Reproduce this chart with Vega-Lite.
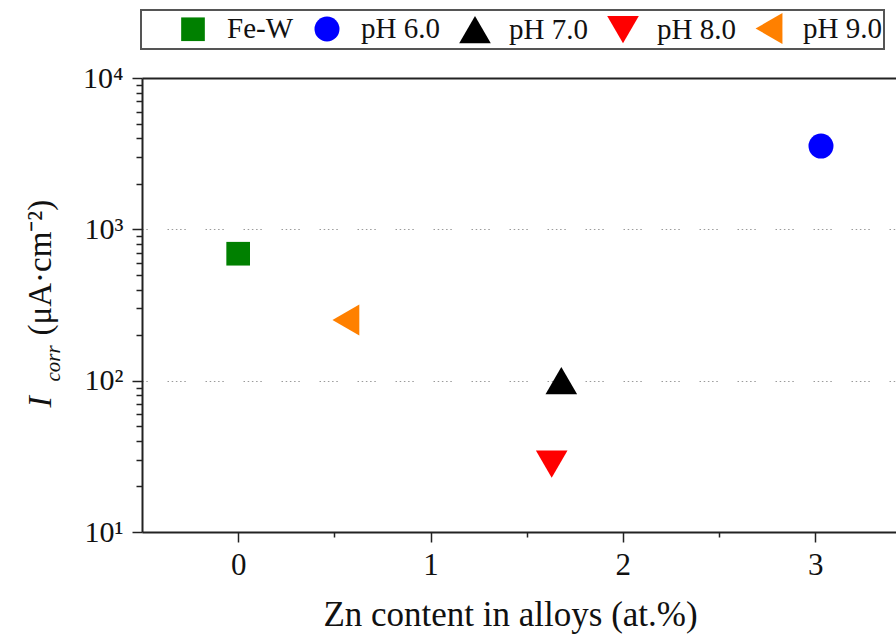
{
  "$schema": "https://vega.github.io/schema/vega-lite/v6.json",
  "width": 754,
  "height": 454,
  "autosize": {"type": "none"},
  "padding": {"left": 142, "top": 78, "right": 0, "bottom": 108},
  "background": "white",
  "data": {
    "values": [
      {"sample": "Fe-W", "zn": 0.0, "icorr": 690},
      {"sample": "pH 6.0", "zn": 3.03, "icorr": 3550},
      {"sample": "pH 7.0", "zn": 1.68, "icorr": 100},
      {"sample": "pH 8.0", "zn": 1.63, "icorr": 28.1},
      {"sample": "pH 9.0", "zn": 0.56, "icorr": 252}
    ]
  },
  "layer": [
    {
      "mark": {"type": "point", "filled": true, "opacity": 1},
      "encoding": {
        "x": {
          "field": "zn",
          "type": "quantitative",
          "scale": {"domain": [-0.5, 3.42], "nice": false, "zero": false},
          "axis": {
            "orient": "bottom",
            "values": [0, 0.5, 1, 1.5, 2, 2.5, 3],
            "labelExpr": "datum.value % 1 == 0 ? format(datum.value, 'd') : ''",
            "tickSize": {"condition": {"test": "datum.value % 1 == 0", "value": 10}, "value": 5},
            "grid": false,
            "title": "Zn content in alloys (at.%)",
            "titleFontSize": 35,
            "titleFontWeight": "normal",
            "titleBaseline": "alphabetic",
            "titleAlign": "center",
            "titleX": 368,
            "titleY": 93,
            "labelFontSize": 31,
            "labelPadding": 8,
            "labelFlush": false
          }
        },
        "y": {
          "field": "icorr",
          "type": "quantitative",
          "scale": {"type": "log", "domain": [10, 10000], "nice": false},
          "axis": {
            "orient": "left",
            "values": [10, 20, 30, 40, 50, 60, 70, 80, 90, 100, 200, 300, 400, 500, 600, 700, 800, 900, 1000, 2000, 3000, 4000, 5000, 6000, 7000, 8000, 9000, 10000],
            "labelExpr": "datum.value == 10 ? '10¹' : datum.value == 100 ? '10²' : datum.value == 1000 ? '10³' : datum.value == 10000 ? '10⁴' : ''",
            "tickSize": {"condition": {"test": "datum.value == 10 || datum.value == 100 || datum.value == 1000 || datum.value == 10000", "value": 10}, "value": 6},
            "grid": true,
            "gridOpacity": {"condition": {"test": "datum.value == 100 || datum.value == 1000", "value": 1}, "value": 0},
            "gridColor": "#9a9a9a",
            "gridWidth": 1,
            "gridDash": [1.5, 2.7, 1.5, 2.7, 1.5, 2.7, 1.5, 2.7, 1.5, 19.7],
            "gridDashOffset": 13,
            "labelFontSize": 30,
            "labelPadding": 9,
            "labelFlush": false,
            "title": "(μA·cm⁻²)",
            "titleFontSize": 33,
            "titleFontWeight": "normal",
            "titleAngle": -90,
            "titleAlign": "left",
            "titleBaseline": "alphabetic",
            "titleX": -92,
            "titleY": 257
          }
        },
        "color": {
          "field": "sample",
          "type": "nominal",
          "scale": {
            "domain": ["Fe-W", "pH 6.0", "pH 7.0", "pH 8.0", "pH 9.0"],
            "range": ["#008000", "#0000ff", "#000000", "#ff0000", "#ff8000"]
          },
          "legend": {
            "orient": "none",
            "legendX": -1,
            "legendY": -68,
            "direction": "horizontal",
            "columns": 5,
            "title": " ",
            "titleOrient": "left",
            "titleFontSize": 2,
            "titlePadding": 33,
            "padding": 2,
            "strokeColor": "#555555",
            "labelFontSize": 29,
            "labelOffset": 17,
            "columnPadding": 16,
            "symbolOpacity": 1
          }
        },
        "shape": {
          "field": "sample",
          "type": "nominal",
          "scale": {
            "domain": ["Fe-W", "pH 6.0", "pH 7.0", "pH 8.0", "pH 9.0"],
            "range": ["square", "circle", "triangle-up", "triangle-down", "triangle-left"]
          }
        },
        "size": {
          "field": "sample",
          "type": "nominal",
          "scale": {
            "type": "ordinal",
            "domain": ["Fe-W", "pH 6.0", "pH 7.0", "pH 8.0", "pH 9.0"],
            "range": [560, 625, 1000, 1000, 960]
          }
        }
      }
    },
    {
      "mark": {"type": "point", "opacity": 0},
      "encoding": {
        "x": {
          "field": "zn",
          "type": "quantitative",
          "axis": {"orient": "top", "labels": false, "ticks": false, "grid": false, "title": null, "domain": true}
        },
        "y": {
          "field": "icorr",
          "type": "quantitative",
          "axis": {
            "orient": "left", "labels": false, "ticks": false, "grid": false, "domain": false,
            "title": "I",
            "titleFontSize": 34,
            "titleFontStyle": "italic",
            "titleFontWeight": "normal",
            "titleAngle": -90,
            "titleAlign": "left",
            "titleBaseline": "alphabetic",
            "titleX": -92,
            "titleY": 329
          }
        }
      }
    },
    {
      "mark": {"type": "point", "opacity": 0},
      "encoding": {
        "x": {"field": "zn", "type": "quantitative", "axis": null},
        "y": {
          "field": "icorr",
          "type": "quantitative",
          "axis": {
            "orient": "left", "labels": false, "ticks": false, "grid": false, "domain": false,
            "title": "corr",
            "titleFontSize": 21,
            "titleFontStyle": "italic",
            "titleFontWeight": "normal",
            "titleAngle": -90,
            "titleAlign": "left",
            "titleBaseline": "alphabetic",
            "titleX": -83,
            "titleY": 303
          }
        }
      }
    }
  ],
  "resolve": {"axis": {"x": "independent", "y": "independent"}},
  "config": {
    "view": {"stroke": null},
    "font": "Liberation Serif",
    "axis": {
      "domainColor": "#222222",
      "domainWidth": 2,
      "tickColor": "#222222",
      "tickWidth": 1.5,
      "labelColor": "#111111",
      "titleColor": "#111111",
      "labelFont": "Liberation Serif",
      "titleFont": "Liberation Serif"
    },
    "legend": {
      "labelFont": "Liberation Serif",
      "titleFont": "Liberation Serif",
      "labelColor": "#111111",
      "strokeWidth": 2
    }
  }
}
